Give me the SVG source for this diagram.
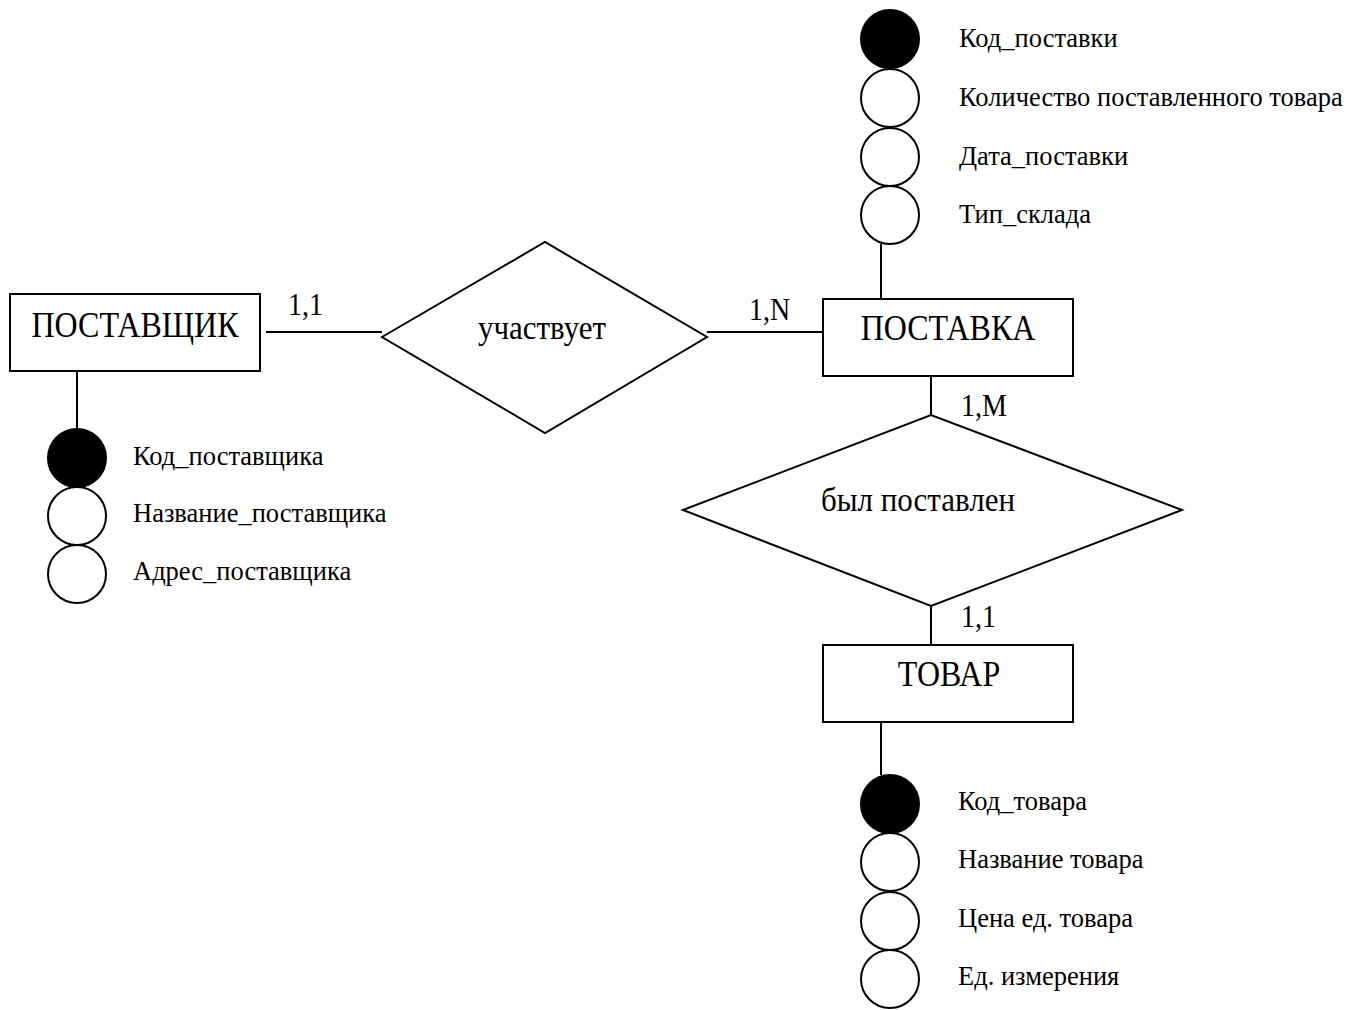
<svg xmlns="http://www.w3.org/2000/svg" width="1357" height="1010" viewBox="0 0 1357 1010">
<style>
  .shape{fill:#fff;stroke:#000;stroke-width:2}
  .key{fill:#000;stroke:#000;stroke-width:2}
  .att{fill:#fff;stroke:#000;stroke-width:2}
  .ln{stroke:#000;stroke-width:2;fill:none}
  text{font-family:"Liberation Serif","Times New Roman",serif;fill:#000}
  .big{font-size:32px;text-anchor:middle}
  .rel{font-size:31px;text-anchor:middle}
  .card{font-size:28px}
  .attr{font-size:26.5px}
</style>
<rect width="1357" height="1010" fill="#fff"/>
<g id="connectors">
  <line class="ln" x1="266" y1="332" x2="382" y2="332"/>
  <line class="ln" x1="707" y1="332" x2="823" y2="332"/>
  <line class="ln" x1="931" y1="376" x2="931" y2="415"/>
  <line class="ln" x1="931" y1="606" x2="931" y2="645"/>
  <line class="ln" x1="77" y1="371" x2="77" y2="429"/>
  <line class="ln" x1="881" y1="244" x2="881" y2="299"/>
  <line class="ln" x1="881" y1="722" x2="881" y2="775"/>
  <text class="card" transform="translate(288,315) scale(1,1.1)">1,1</text>
  <text class="card" transform="translate(749,320) scale(1,1.1)">1,N</text>
  <text class="card" transform="translate(961,416) scale(1,1.1)">1,M</text>
  <text class="card" transform="translate(961,627) scale(1,1.1)">1,1</text>
</g>
<g id="supplier">
  <rect class="shape" x="10" y="294" width="250" height="77"/>
  <text class="big" transform="translate(135,337) scale(1,1.1)">ПОСТАВЩИК</text>
</g>
<g id="supplier-attrs">
  <circle class="key" cx="77" cy="458" r="29"/>
  <circle class="att" cx="77" cy="516" r="29"/>
  <circle class="att" cx="77" cy="574" r="29"/>
  <text class="attr" x="133" y="465">Код_поставщика</text>
  <text class="attr" x="133" y="522">Название_поставщика</text>
  <text class="attr" x="133" y="580">Адрес_поставщика</text>
</g>
<g id="participates">
  <polygon class="shape" points="382,337 545,242 707,337 545,433"/>
  <text class="rel" transform="translate(542,339) scale(1,1.1)">участвует</text>
</g>
<g id="delivery">
  <rect class="shape" x="823" y="299" width="250" height="77"/>
  <text class="big" transform="translate(948,340) scale(1,1.1)">ПОСТАВКА</text>
</g>
<g id="delivery-attrs">
  <circle class="key" cx="890" cy="39" r="29"/>
  <circle class="att" cx="890" cy="98" r="29"/>
  <circle class="att" cx="890" cy="157" r="29"/>
  <circle class="att" cx="890" cy="215" r="29"/>
  <text class="attr" x="959" y="47">Код_поставки</text>
  <text class="attr" x="959" y="106">Количество поставленного товара</text>
  <text class="attr" x="959" y="165">Дата_поставки</text>
  <text class="attr" x="959" y="223">Тип_склада</text>
</g>
<g id="was-delivered">
  <polygon class="shape" points="683,510 931,415 1182,510 931,606"/>
  <text class="rel" transform="translate(918,511) scale(1,1.1)">был поставлен</text>
</g>
<g id="product">
  <rect class="shape" x="823" y="645" width="250" height="77"/>
  <text class="big" transform="translate(949,686) scale(1,1.1)">ТОВАР</text>
</g>
<g id="product-attrs">
  <circle class="key" cx="890" cy="804" r="29"/>
  <circle class="att" cx="890" cy="862" r="29"/>
  <circle class="att" cx="890" cy="921" r="29"/>
  <circle class="att" cx="890" cy="979" r="29"/>
  <text class="attr" x="958" y="810">Код_товара</text>
  <text class="attr" x="958" y="868">Название товара</text>
  <text class="attr" x="958" y="927">Цена ед. товара</text>
  <text class="attr" x="958" y="985">Ед. измерения</text>
</g>
</svg>
